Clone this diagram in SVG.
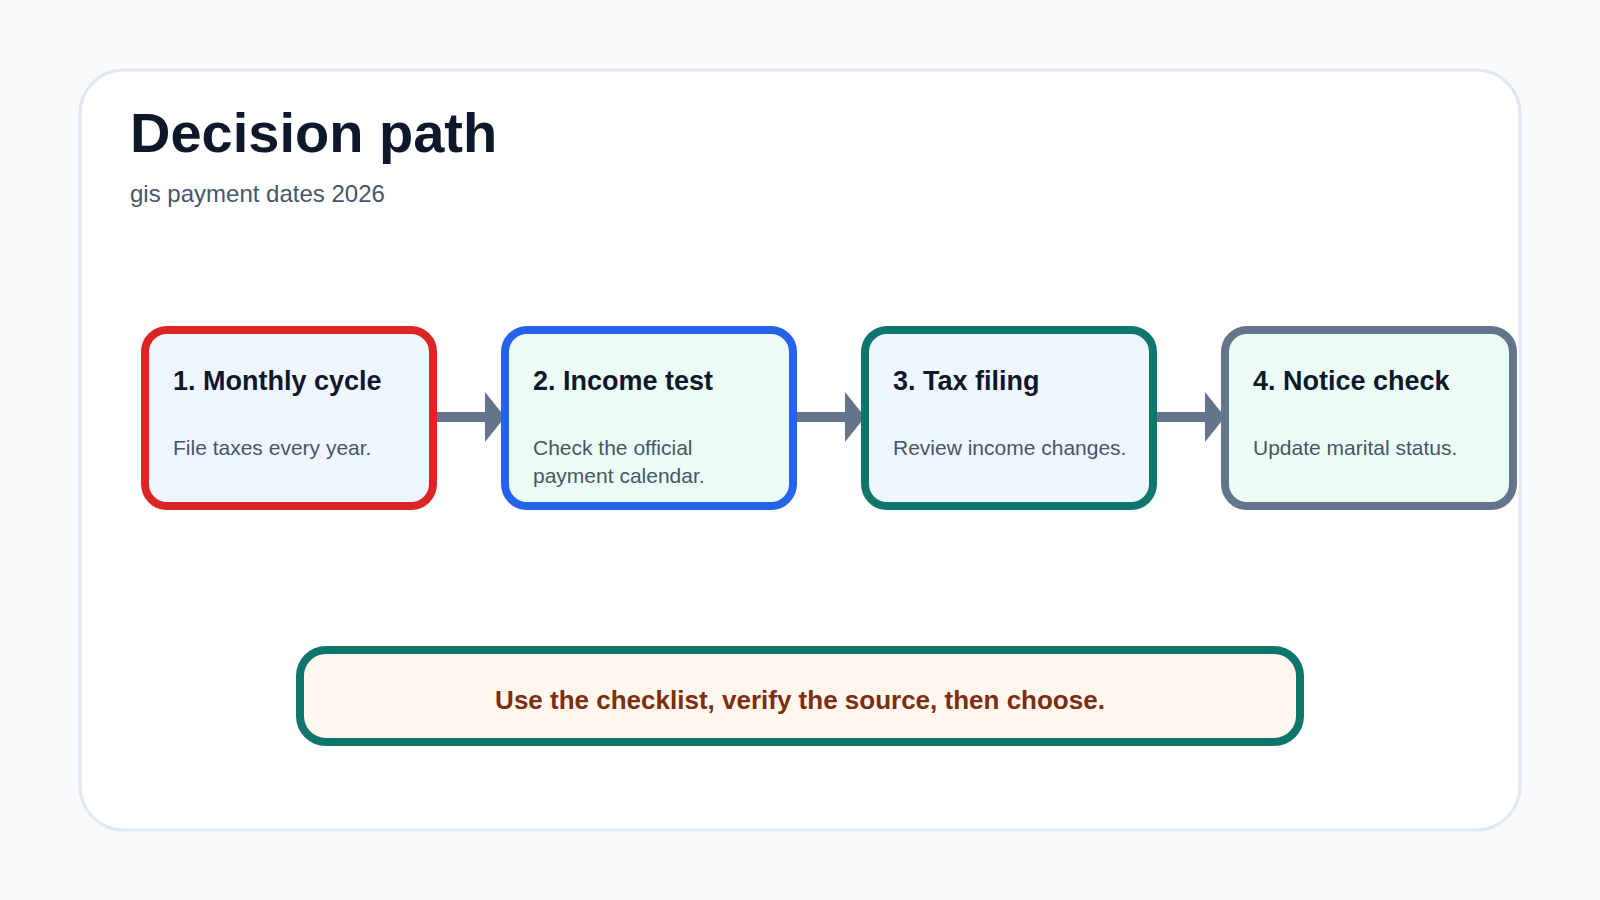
<svg xmlns="http://www.w3.org/2000/svg" width="1600" height="900" viewBox="0 0 1600 900">
<defs>
<style>
text{font-family:"Liberation Sans",Arial,sans-serif}
.nt{font-size:27px;font-weight:bold;fill:#0f172a}
.nb{font-size:21px;fill:#475569}
.n{stroke-width:8}
.c{stroke:#64748b;stroke-width:10;fill:none}
</style>
<marker id="ah" viewBox="0 0 20 50" refX="18" refY="25" markerWidth="20" markerHeight="50" markerUnits="userSpaceOnUse" orient="auto"><path d="M0,0L20,25L0,50Z" fill="#64748b"/></marker>
</defs>
<rect width="1600" height="900" fill="#f8fafc"/>
<rect x="80" y="70" width="1440" height="760" rx="44" fill="#fff" stroke="#e2e8f0" stroke-width="3"/>
<text x="130" y="152" font-size="56" font-weight="bold" fill="#0f172a">Decision path</text>
<text x="130" y="202" font-size="24" fill="#475569">gis payment dates 2026</text>
<g id="connectors">
<line class="c" x1="433" y1="417" x2="503" y2="417" marker-end="url(#ah)"/>
<line class="c" x1="793" y1="417" x2="863" y2="417" marker-end="url(#ah)"/>
<line class="c" x1="1153" y1="417" x2="1223" y2="417" marker-end="url(#ah)"/>
</g>
<g id="n1"><rect class="n" x="145" y="330" width="288" height="176" rx="22" fill="#eff6ff" stroke="#dc2626"/>
<text class="nt" x="173" y="390">1. Monthly cycle</text><text class="nb" x="173" y="455">File taxes every year.</text></g>
<g id="n2"><rect class="n" x="505" y="330" width="288" height="176" rx="22" fill="#ecfdf5" stroke="#2563eb"/>
<text class="nt" x="533" y="390">2. Income test</text><text class="nb" x="533" y="455">Check the official</text><text class="nb" x="533" y="483">payment calendar.</text></g>
<g id="n3"><rect class="n" x="865" y="330" width="288" height="176" rx="22" fill="#eff6ff" stroke="#0f766e"/>
<text class="nt" x="893" y="390">3. Tax filing</text><text class="nb" x="893" y="455">Review income changes.</text></g>
<g id="n4"><rect class="n" x="1225" y="330" width="288" height="176" rx="22" fill="#ecfdf5" stroke="#64748b"/>
<text class="nt" x="1253" y="390">4. Notice check</text><text class="nb" x="1253" y="455">Update marital status.</text></g>
<g id="note"><rect x="300" y="650" width="1000" height="92" rx="26" fill="#fff7ed" stroke="#0f766e" stroke-width="8"/>
<text x="800" y="709" text-anchor="middle" font-size="26" font-weight="bold" fill="#7c2d12">Use the checklist, verify the source, then choose.</text></g>
</svg>
